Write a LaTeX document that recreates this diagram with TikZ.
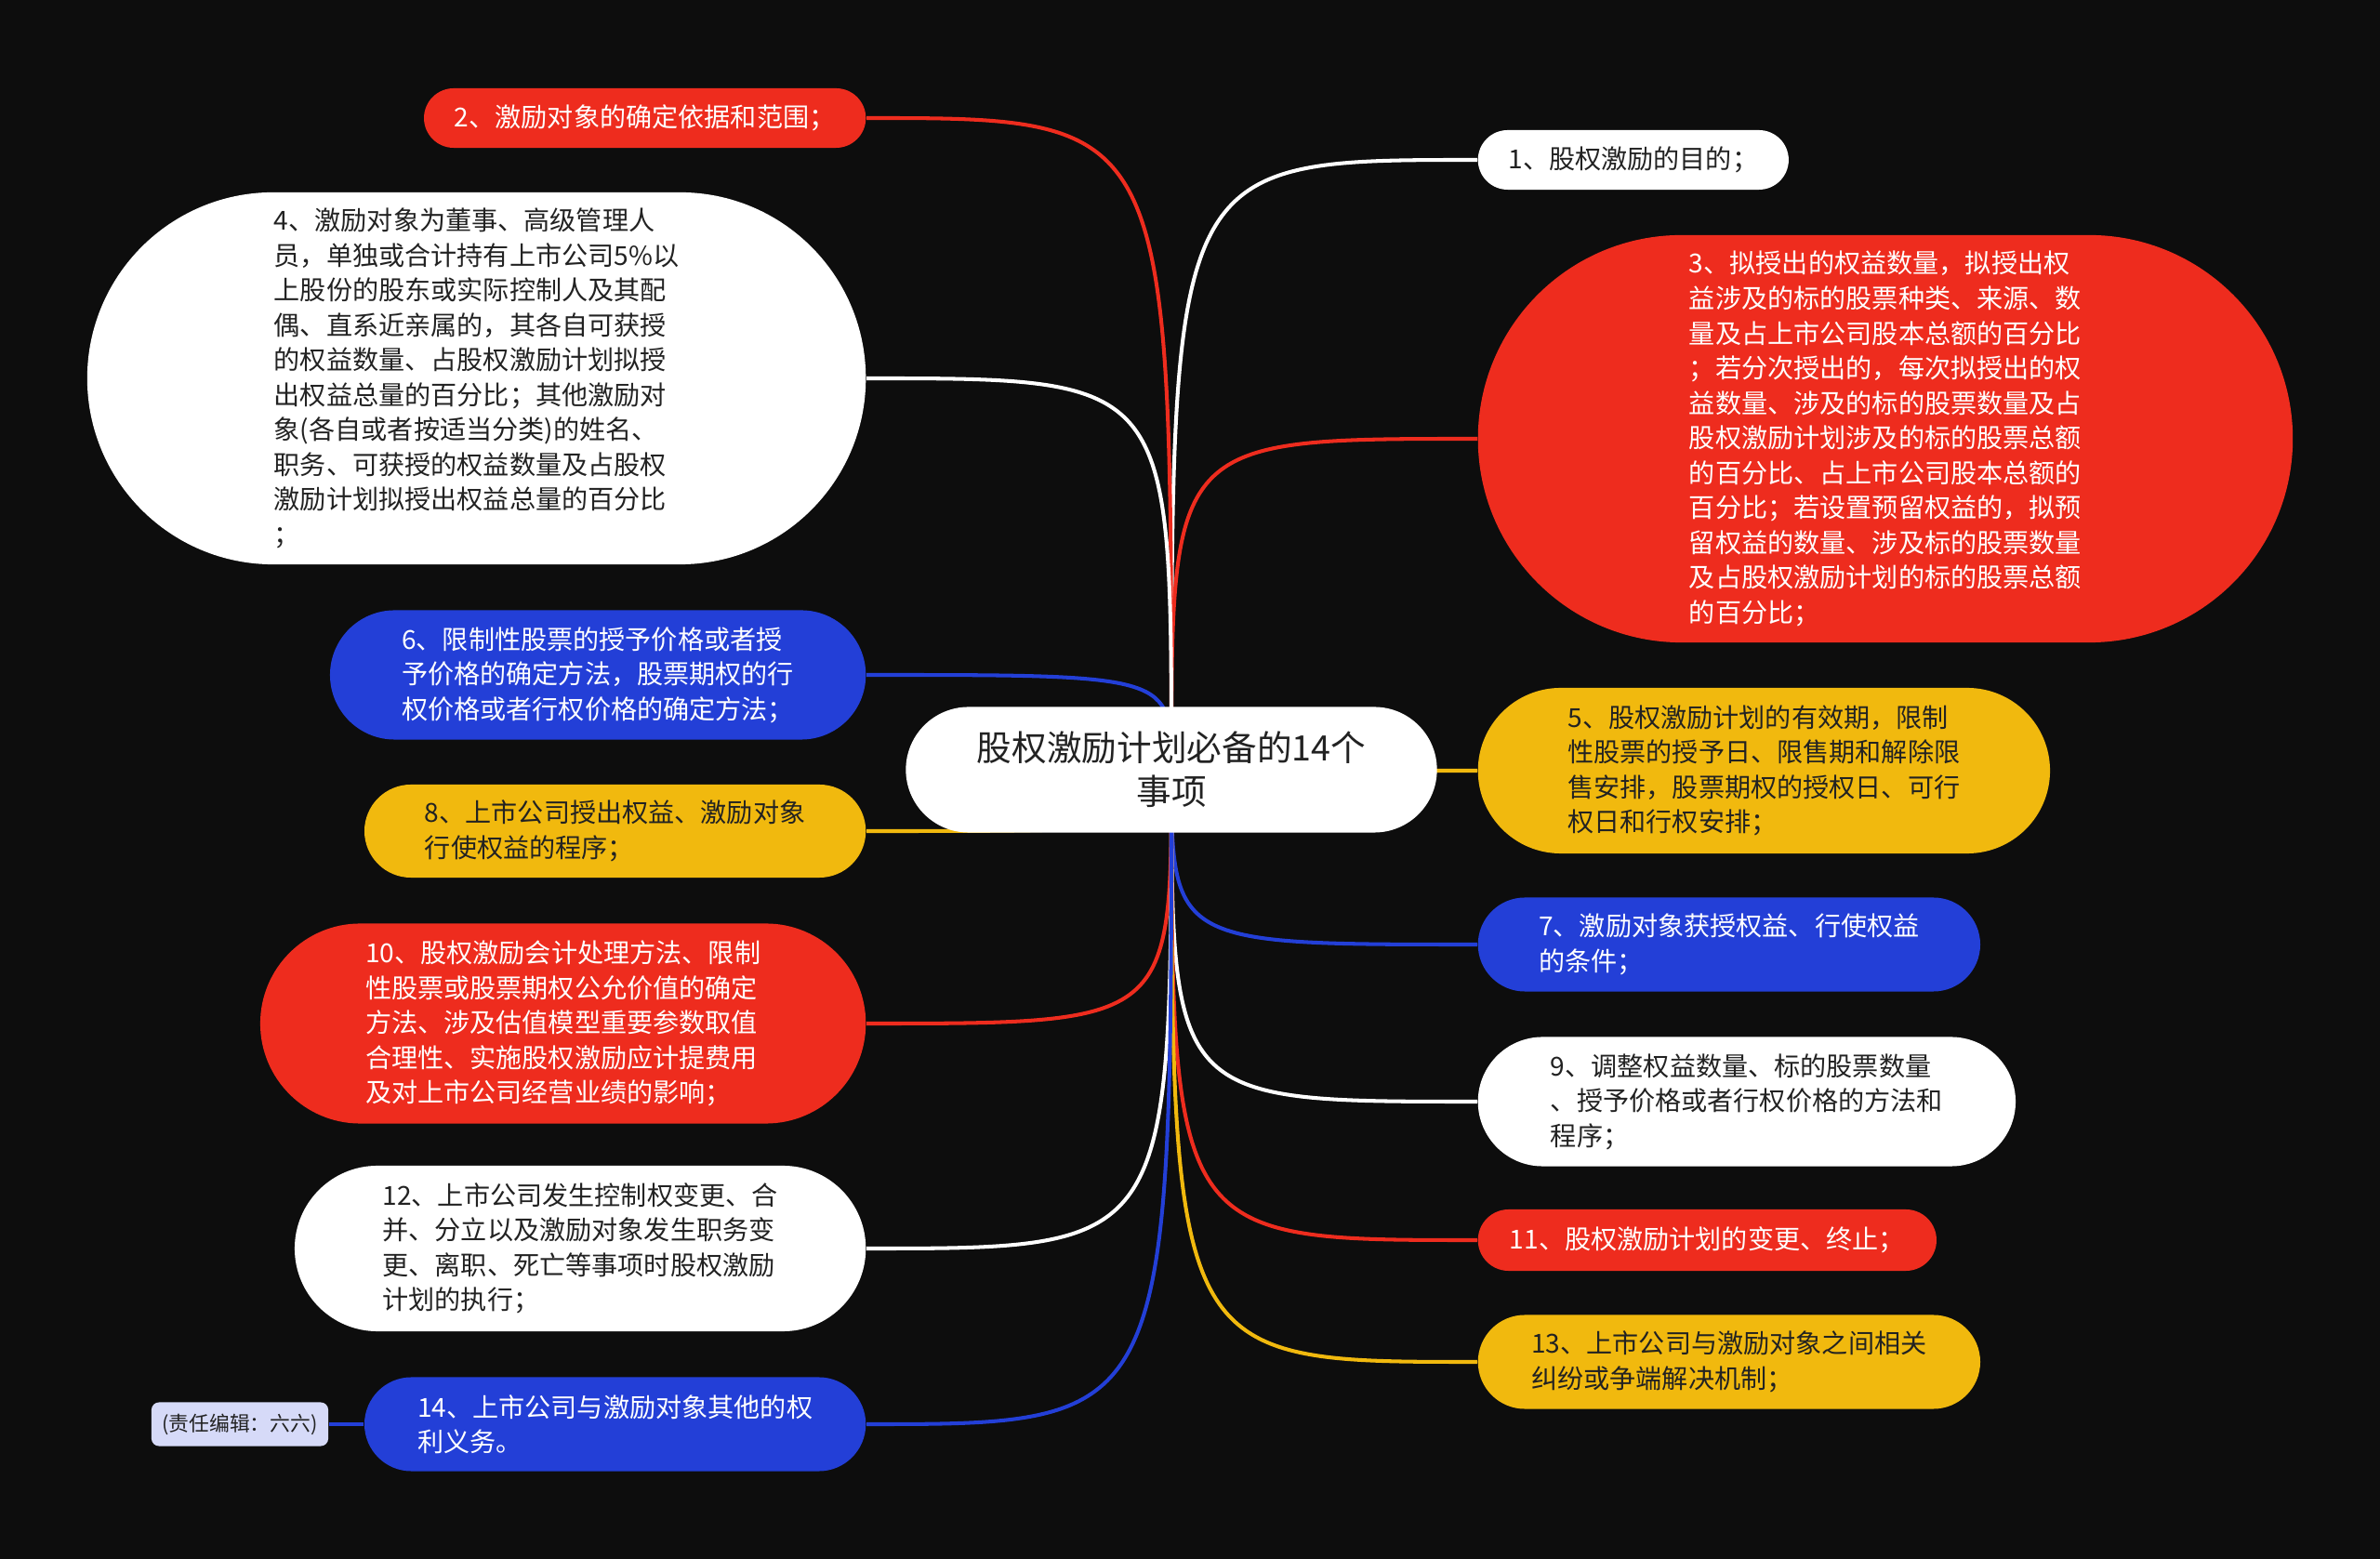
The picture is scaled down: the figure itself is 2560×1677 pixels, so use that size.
\documentclass[tikz,border=0pt]{standalone}
\usepackage{fontspec}
\usepackage{xcolor}
\usepackage{tikz}
\usetikzlibrary{shapes.misc, positioning, calc}
\newfontfamily\cjk{Noto Sans CJK SC}
\definecolor{bgdark}{HTML}{0D0D0D}
\definecolor{mapred}{HTML}{EE2C1E}
\definecolor{mapblue}{HTML}{233FD7}
\definecolor{mapyellow}{HTML}{F1B90E}
\definecolor{maptext}{HTML}{222222}
\definecolor{editorbg}{HTML}{D6DAF8}
\pgfdeclarelayer{bg}
\pgfdeclarelayer{flows}
\pgfsetlayers{bg,flows,main}

\begin{document}
\begin{tikzpicture}[
    x=0.01cm, y=-0.01cm,
    central/.style={rounded rectangle, fill=white, text=maptext, align=center, inner sep=0pt, minimum width=5.71cm, minimum height=1.35cm, font=\cjk\fontsize{10.7pt}{13.4pt}\selectfont},
    leaf/.style={rounded rectangle, inner sep=0pt, align=left, font=\cjk\fontsize{8pt}{10.67pt}\selectfont},
    redleaf/.style={leaf, fill=mapred, text=white},
    blueleaf/.style={leaf, fill=mapblue, text=white},
    yellowleaf/.style={leaf, fill=mapyellow, text=maptext},
    whiteleaf/.style={leaf, fill=white, text=maptext},
    note/.style={rectangle, rounded corners=0.08cm, fill=editorbg, text=maptext, inner sep=0pt, minimum width=1.9cm, minimum height=0.47cm, font=\cjk\fontsize{6.2pt}{7pt}\selectfont},
    flow/.style={line width=1.15pt, draw=#1}
]
    \useasboundingbox (0,0) rectangle (2560,1677);
    \begin{pgfonlayer}{bg}
        \fill [bgdark] (0,0) rectangle (2560,1677);
    \end{pgfonlayer}

    % Nodes
    \node (root) [central] at (1260,828) {股权激励计划必备的14个\\事项};

    \node (item1) [whiteleaf, anchor=west, minimum width=3.34cm, minimum height=0.64cm] at (1589,172) {1、股权激励的目的；};
    \node (item3) [redleaf, anchor=west, minimum width=8.76cm, minimum height=4.38cm] at (1589,472) {3、拟授出的权益数量，拟授出权\\益涉及的标的股票种类、来源、数\\量及占上市公司股本总额的百分比\\；若分次授出的，每次拟授出的权\\益数量、涉及的标的股票数量及占\\股权激励计划涉及的标的股票总额\\的百分比、占上市公司股本总额的\\百分比；若设置预留权益的，拟预\\留权益的数量、涉及标的股票数量\\及占股权激励计划的标的股票总额\\的百分比；};
    \node (item5) [yellowleaf, anchor=west, minimum width=6.15cm, minimum height=1.78cm] at (1589,829) {5、股权激励计划的有效期，限制\\性股票的授予日、限售期和解除限\\售安排，股票期权的授权日、可行\\权日和行权安排；};
    \node (item7) [blueleaf, anchor=west, minimum width=5.40cm, minimum height=1.01cm] at (1589,1016) {7、激励对象获授权益、行使权益\\的条件；};
    \node (item9) [whiteleaf, anchor=west, minimum width=5.78cm, minimum height=1.39cm] at (1589,1185) {9、调整权益数量、标的股票数量\\、授予价格或者行权价格的方法和\\程序；};
    \node (item11) [redleaf, anchor=west, minimum width=4.93cm, minimum height=0.66cm] at (1589,1334) {11、股权激励计划的变更、终止；};
    \node (item13) [yellowleaf, anchor=west, minimum width=5.40cm, minimum height=1.01cm] at (1589,1465) {13、上市公司与激励对象之间相关\\纠纷或争端解决机制；};

    \node (item2) [redleaf, anchor=east, minimum width=4.75cm, minimum height=0.64cm] at (932,127) {2、激励对象的确定依据和范围；};
    \node (item4) [whiteleaf, anchor=east, minimum width=8.37cm, minimum height=4.00cm] at (932,407) {4、激励对象为董事、高级管理人\\员，单独或合计持有上市公司5\%以\\上股份的股东或实际控制人及其配\\偶、直系近亲属的，其各自可获授\\的权益数量、占股权激励计划拟授\\出权益总量的百分比；其他激励对\\象(各自或者按适当分类)的姓名、\\职务、可获授的权益数量及占股权\\激励计划拟授出权益总量的百分比\\；};
    \node (item6) [blueleaf, anchor=east, minimum width=5.76cm, minimum height=1.39cm] at (932,726) {6、限制性股票的授予价格或者授\\予价格的确定方法，股票期权的行\\权价格或者行权价格的确定方法；};
    \node (item8) [yellowleaf, anchor=east, minimum width=5.39cm, minimum height=1.00cm] at (932,894) {8、上市公司授出权益、激励对象\\行使权益的程序；};
    \node (item10) [redleaf, anchor=east, minimum width=6.51cm, minimum height=2.15cm] at (932,1101) {10、股权激励会计处理方法、限制\\性股票或股票期权公允价值的确定\\方法、涉及估值模型重要参数取值\\合理性、实施股权激励应计提费用\\及对上市公司经营业绩的影响；};
    \node (item12) [whiteleaf, anchor=east, minimum width=6.14cm, minimum height=1.78cm] at (932,1343) {12、上市公司发生控制权变更、合\\并、分立以及激励对象发生职务变\\更、离职、死亡等事项时股权激励\\计划的执行；};
    \node (item14) [blueleaf, anchor=east, minimum width=5.39cm, minimum height=1.01cm] at (932,1532) {14、上市公司与激励对象其他的权\\利义务。};

    \node (editor) [note] at (258,1532) {(责任编辑：六六)};

    % Flows
    \begin{pgfonlayer}{flows}
        \draw [flow=white] (root.center) .. controls (root.center |- item1.west) .. (item1.west);
        \draw [flow=mapred] (root.center) .. controls (root.center |- item3.west) .. (item3.west);
        \draw [flow=mapyellow] (root.center) .. controls (root.center |- item5.west) .. (item5.west);
        \draw [flow=mapblue] (root.center) .. controls (root.center |- item7.west) .. (item7.west);
        \draw [flow=white] (root.center) .. controls (root.center |- item9.west) .. (item9.west);
        \draw [flow=mapred] (root.center) .. controls (root.center |- item11.west) .. (item11.west);
        \draw [flow=mapyellow] (root.center) .. controls (root.center |- item13.west) .. (item13.west);
        \draw [flow=mapred] (root.center) .. controls (root.center |- item2.east) .. (item2.east);
        \draw [flow=white] (root.center) .. controls (root.center |- item4.east) .. (item4.east);
        \draw [flow=mapblue] (root.center) .. controls (root.center |- item6.east) .. (item6.east);
        \draw [flow=mapyellow] (root.center) .. controls (root.center |- item8.east) .. (item8.east);
        \draw [flow=mapred] (root.center) .. controls (root.center |- item10.east) .. (item10.east);
        \draw [flow=white] (root.center) .. controls (root.center |- item12.east) .. (item12.east);
        \draw [flow=mapblue] (root.center) .. controls (root.center |- item14.east) .. (item14.east);
        \draw [flow=mapblue] (item14.west) -- (editor.east);
    \end{pgfonlayer}

\end{tikzpicture}
\end{document}
